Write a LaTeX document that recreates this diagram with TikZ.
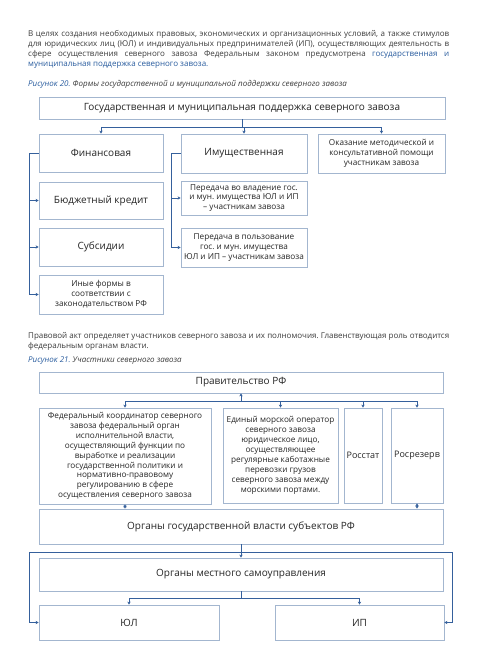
\documentclass[tikz,border=0pt]{standalone}
\usepackage{fontspec}
\setmainfont{Open Sans}
\usetikzlibrary{arrows.meta,shadows}
\definecolor{bordc}{HTML}{A3B6CF}
\definecolor{connc}{HTML}{35609C}
\definecolor{txtc}{HTML}{262626}
\definecolor{parc}{HTML}{3C3C3C}
\definecolor{bluec}{HTML}{2A5D9F}
\frenchspacing
\tikzset{
 box/.style={draw=bordc, line width=0.8pt, fill=white, align=center, inner sep=1pt, text=txtc,
   drop shadow={shadow xshift=0.5pt, shadow yshift=-0.8pt, fill=black!12, opacity=1}},
 big/.style={font=\fontsize{10}{12}\selectfont},
 small/.style={font=\fontsize{8.2}{9.9}\selectfont},
 conn/.style={draw=connc, line width=0.9pt},
 arr/.style={conn, -{Stealth[length=3pt,width=3.4pt]}},
 darr/.style={conn, {Stealth[length=3pt,width=3.4pt]}-{Stealth[length=3pt,width=3.4pt]}},
 rarr/.style={conn, {Stealth[length=3pt,width=3.4pt]}-},
 partext/.style={anchor=base west, inner sep=0, text=parc, font=\fontsize{8}{10}\selectfont},
 captext/.style={anchor=base west, inner sep=0, text=parc, font=\fontsize{8}{10}\selectfont\itshape},
}
\newcommand\jline[1]{\makebox[421pt][s]{#1}}
\begin{document}
\begin{tikzpicture}[x=1pt,y=-1pt]
\useasboundingbox[fill=white] (0,0) rectangle (480,648);

% ---------- paragraph 1 ----------
\node[partext] (p1a) at (28,36.5) {\jline{В целях создания необходимых правовых, экономических и организационных условий, а также стимулов}};
\node[partext] (p1b) at (28,46.5) {\jline{для юридических лиц (ЮЛ) и индивидуальных предпринимателей (ИП), осуществляющих деятельность в}};
\node[partext] (p1c) at (28,56.5) {\jline{сфере осуществления северного завоза Федеральным законом предусмотрена \textcolor{bluec}{государственная} \textcolor{bluec}{и}}};
\node[partext, text=bluec] (p1d) at (28,66.5) {муниципальная поддержка северного завоза.};
\node[captext] (cap20) at (28,86.5) {\textcolor{bluec}{Рисунок 20.} Формы государственной и муниципальной поддержки северного завоза};

% ---------- figure 20 ----------
\node[box,big,minimum width=406pt,minimum height=22pt] (top) at (242,108) {Государственная и муниципальная поддержка северного завоза};
\node[box,big,minimum width=124pt,minimum height=38pt] (fin) at (101,153) {Финансовая};
\node[box,big,minimum width=126pt,minimum height=39pt] (imu) at (244,153.5) {Имущественная};
\node[box,small,minimum width=127pt,minimum height=39pt] (okaz) at (381.5,153.5) {Оказание методической и\\консультативной помощи\\участникам завоза};
\node[box,big,minimum width=124pt,minimum height=37pt] (bud) at (101,200.5) {Бюджетный кредит};
\node[box,small,minimum width=126pt,minimum height=34pt] (vlad) at (244,198) {Передача во владение гос.\\и мун. имущества ЮЛ и ИП\\– участникам завоза};
\node[box,big,minimum width=124pt,minimum height=38pt] (sub) at (101,247) {Субсидии};
\node[box,small,minimum width=126pt,minimum height=39pt] (polz) at (244,247.5) {Передача в пользование\\гос. и мун. имущества\\ЮЛ и ИП – участникам завоза};
\node[box,small,minimum width=124pt,minimum height=39pt] (ine) at (101,294.5) {Иные формы в\\соответствии с\\законодательством РФ};

\coordinate (j20) at (242,127);
\draw[conn] (top.south) -- (j20);
\draw[arr] (j20) -| (fin.north);
\draw[arr] (j20) -| (okaz.north);
\draw[arr] (imu.north |- j20) -- (imu.north);
\draw[arr] (fin.west) -- ++(-9,0) |- (bud.west);
\draw[arr] (fin.west) -- ++(-9,0) |- (sub.west);
\draw[arr] (fin.west) -- ++(-9,0) |- (ine.west);
\draw[arr] (imu.west) -- ++(-9,0) |- (vlad.west);
\draw[arr] (imu.west) -- ++(-9,0) |- (polz.west);

% ---------- paragraph 2 ----------
\node[partext] (p2a) at (28,338) {\jline{Правовой акт определяет участников северного завоза и их полномочия. Главенствующая роль отводится}};
\node[partext] (p2b) at (28,348) {федеральным органам власти.};
\node[captext] (cap21) at (28,362.5) {\textcolor{bluec}{Рисунок 21.} Участники северного завоза};

% ---------- figure 21 ----------
\node[box,big,minimum width=404pt,minimum height=21pt] (prav) at (241,382.5) {Правительство РФ};
\node[box,small,minimum width=172pt,minimum height=96pt] (fed) at (125,456) {Федеральный координатор северного\\завоза федеральный орган\\исполнительной власти,\\осуществляющий функции по\\выработке и реализации\\государственной политики и\\нормативно-правовому\\регулированию в сфере\\осуществления северного завоза};
\node[box,small,minimum width=115pt,minimum height=95pt] (edin) at (280.5,455.5) {Единый морской оператор\\северного завоза\\юридическое лицо,\\осуществляющее\\регулярные каботажные\\перевозки грузов\\северного завоза между\\морскими портами.};
\node[box,font=\fontsize{9}{11}\selectfont,inner sep=0pt,minimum width=38pt,minimum height=95pt] (ross) at (363,455.5) {Росстат};
\node[box,font=\fontsize{9}{11}\selectfont,inner sep=0pt,minimum width=52pt,minimum height=95pt] (rosr) at (417,455.5) {Росрезерв};
\node[box,big,minimum width=404pt,minimum height=35pt] (ogv) at (241,526.5) {Органы государственной власти субъектов РФ};
\node[box,big,minimum width=404pt,minimum height=33pt] (oms) at (241,574.5) {Органы местного самоуправления};
\node[box,big,minimum width=180pt,minimum height=35pt] (yul) at (129,622.5) {ЮЛ};
\node[box,big,minimum width=169pt,minimum height=35pt] (ip) at (359.5,622.5) {ИП};

\coordinate (j21) at (241,401);
\draw[rarr] (prav.south) -- (j21);
\draw[arr] (j21) -| (fed.north);
\draw[arr] (j21) -| (edin.north);
\draw[arr] (j21) -| (ross.north);
\draw[arr] (j21) -| (rosr.north);
\draw[darr] (fed.south) -- (fed.south |- ogv.north);
\draw[darr] (rosr.south) -- (rosr.south |- ogv.north);

\coordinate (j22) at (241,552);
\draw[arr] (ogv.south) -- (oms.north);
\draw[arr] (j22) -- (29,552) |- (yul.west);
\draw[arr] (j22) -- (452,552) |- (ip.east);

\coordinate (j23) at (241,598);
\draw[conn] (oms.south) -- (j23);
\draw[arr] (j23) -| (yul.north);
\draw[arr] (j23) -| (ip.north);
\end{tikzpicture}
\end{document}
